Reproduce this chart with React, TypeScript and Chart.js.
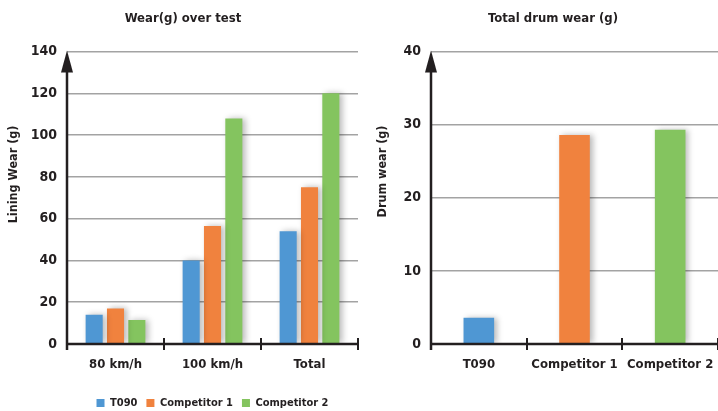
import React, { useEffect, useRef } from "react";
import { Chart, registerables } from "chart.js";

Chart.register(...registerables);

const FONT = "'DejaVu Sans Condensed', 'Roboto', sans-serif";
const INK = "#231f20";

const wearCategories = ["80 km/h", "100 km/h", "Total"];
const seriesNames = ["T090", "Competitor 1", "Competitor 2"];
const t090Wear = [14, 40, 54];
const competitor1Wear = [17, 56.5, 75];
const competitor2Wear = [11.5, 108, 120];
const wearTickMax = 140;
const wearTickStep = 20;
const wearTitle = "Wear(g) over test";
const wearAxisTitle = "Lining Wear (g)";

const drumCategories = ["T090", "Competitor 1", "Competitor 2"];
const drumWear = [3.6, 28.6, 29.3];
const drumTickMax = 40;
const drumTickStep = 10;
const drumTitle = "Total drum wear (g)";
const drumAxisTitle = "Drum wear (g)";

const seriesColors = ["#4f97d3", "#f0823e", "#84c45f"];

const shadowPlugin = {
  id: "barShadow",
  beforeDatasetsDraw(chart: any) {
    const c = chart.ctx;
    c.save();
    c.shadowColor = "rgba(0,0,0,0.28)";
    c.shadowBlur = 6;
    c.shadowOffsetX = 3;
    c.shadowOffsetY = 0;
  },
  afterDatasetsDraw(chart: any) {
    chart.ctx.restore();
  },
};

const axisPlugin = {
  id: "axisDecor",
  afterDraw(chart: any) {
    const { ctx, chartArea, scales } = chart;
    const xs = scales.x;
    const ys = scales.y;
    const left = chartArea.left;
    const right = chartArea.right;
    const top = chartArea.top;
    const bottom = ys.getPixelForValue(0);
    ctx.save();
    ctx.strokeStyle = INK;
    ctx.fillStyle = INK;
    ctx.lineWidth = 2.5;
    ctx.beginPath();
    ctx.moveTo(left, bottom + 6);
    ctx.lineTo(left, top + 14);
    ctx.stroke();
    ctx.beginPath();
    ctx.moveTo(left, top - 1);
    ctx.lineTo(left - 6, top + 21);
    ctx.lineTo(left + 6, top + 21);
    ctx.closePath();
    ctx.fill();
    ctx.beginPath();
    ctx.moveTo(left, bottom);
    ctx.lineTo(right, bottom);
    ctx.stroke();
    ctx.lineWidth = 2;
    const n = xs.ticks.length;
    for (let i = 1; i <= n; i++) {
      const px = Math.round(xs.getPixelForValue(i - 0.5));
      ctx.beginPath();
      ctx.moveTo(px, bottom - 6);
      ctx.lineTo(px, bottom + 6);
      ctx.stroke();
    }
    ctx.restore();
  },
};

const yTitlePlugin = {
  id: "yTitle",
  afterDraw(chart: any, _args: any, opts: any) {
    const { ctx, chartArea } = chart;
    ctx.save();
    ctx.translate(opts.x, chartArea.top + chartArea.height * opts.frac);
    ctx.rotate(-Math.PI / 2);
    ctx.textAlign = "center";
    ctx.textBaseline = "middle";
    ctx.font = `bold 12.5px ${FONT}`;
    ctx.fillStyle = INK;
    ctx.fillText(opts.text, 0, 0);
    ctx.restore();
  },
};

function makeYScale(max: number, step: number, width: number) {
  return {
    min: 0,
    max,
    ticks: {
      stepSize: step,
      color: INK,
      padding: 10,
      font: { family: FONT, size: 14, weight: "bold" },
    },
    grid: { color: "#a3a3a3", lineWidth: 1.5, drawTicks: false },
    border: { display: false },
    afterFit: (s: any) => {
      s.width = width;
    },
  };
}

function spacerScale(width: number) {
  return {
    position: "right",
    display: true,
    grid: { display: false },
    border: { display: false },
    ticks: { display: false },
    afterFit: (s: any) => {
      s.width = width;
    },
  };
}

function makeXScale(height: number) {
  return {
    grid: { display: false },
    border: { display: false },
    ticks: {
      color: INK,
      padding: 5,
      autoSkip: false,
      maxRotation: 0,
      minRotation: 0,
      font: { family: FONT, size: 13, weight: "bold" },
    },
    afterFit: (s: any) => {
      s.height = height;
    },
  };
}

export default function App() {
  const leftRef = useRef<HTMLCanvasElement>(null);
  const rightRef = useRef<HTMLCanvasElement>(null);

  useEffect(() => {
    const wearSeries = [t090Wear, competitor1Wear, competitor2Wear];
    const left = new Chart(leftRef.current!, {
      type: "bar",
      data: {
        labels: wearCategories,
        datasets: seriesNames.map((name, i) => ({
          label: name,
          data: wearSeries[i],
          backgroundColor: seriesColors[i],
          borderWidth: 0,
          barPercentage: 0.8,
          categoryPercentage: 0.66,
        })),
      },
      options: {
        responsive: false,
        animation: false,
        devicePixelRatio: 1,
        layout: { padding: 0 },
        plugins: {
          title: {
            display: true,
            text: wearTitle,
            color: INK,
            font: { family: FONT, size: 13, weight: "bold" },
            padding: { top: 11, bottom: 25 },
          },
          legend: {
            position: "bottom",
            fullSize: false,
            maxHeight: 22.5,
            labels: {
              boxWidth: 8,
              boxHeight: 8,
              color: INK,
              padding: 9,
              font: { family: FONT, size: 11, weight: "bold" },
            },
          },
          tooltip: { enabled: false },
          yTitle: { text: wearAxisTitle, x: 14, frac: 0.42 },
        } as any,
        scales: {
          x: makeXScale(44.5) as any,
          y: makeYScale(wearTickMax, wearTickStep, 67) as any,
          pad: spacerScale(8) as any,
        },
      },
      plugins: [shadowPlugin, axisPlugin, yTitlePlugin],
    });

    const right = new Chart(rightRef.current!, {
      type: "bar",
      data: {
        labels: drumCategories,
        datasets: [
          {
            label: "Total drum wear",
            data: drumWear,
            backgroundColor: seriesColors,
            borderWidth: 0,
            barPercentage: 0.8,
            categoryPercentage: 0.4,
          },
        ],
      },
      options: {
        responsive: false,
        animation: false,
        devicePixelRatio: 1,
        layout: { padding: 0 },
        plugins: {
          title: {
            display: true,
            text: drumTitle,
            color: INK,
            font: { family: FONT, size: 13, weight: "bold" },
            padding: { top: 11, bottom: 25 },
          },
          legend: { display: false },
          tooltip: { enabled: false },
          yTitle: { text: drumAxisTitle, x: 23, frac: 0.41 },
        } as any,
        scales: {
          x: makeXScale(67) as any,
          y: makeYScale(drumTickMax, drumTickStep, 71) as any,
          pad: spacerScale(28) as any,
        },
      },
      plugins: [shadowPlugin, axisPlugin, yTitlePlugin],
    });

    return () => {
      left.destroy();
      right.destroy();
    };
  }, []);

  return (
    <div
      style={{
        position: "absolute",
        left: 0,
        top: 0,
        width: 718,
        height: 411,
        overflow: "hidden",
        background: "#fff",
      }}
    >
      <canvas
        ref={leftRef}
        width={366}
        height={411}
        style={{ position: "absolute", left: 0, top: 0, width: 366, height: 411 }}
      />
      <canvas
        ref={rightRef}
        width={386}
        height={411}
        style={{ position: "absolute", left: 360, top: 0, width: 386, height: 411 }}
      />
    </div>
  );
}
